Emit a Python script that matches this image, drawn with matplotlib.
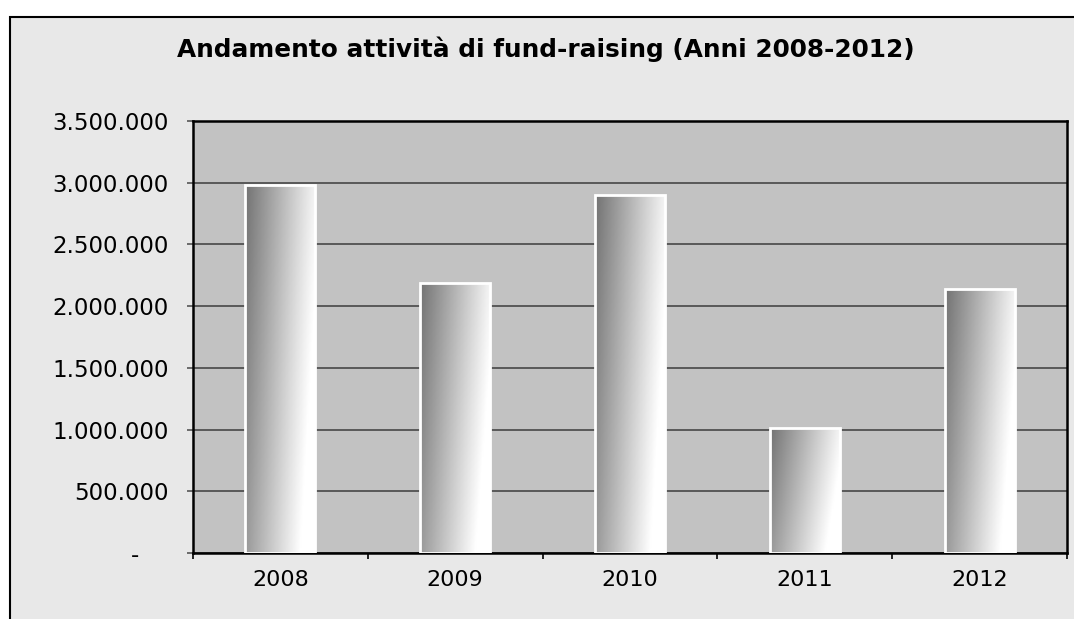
import numpy as np
import matplotlib.pyplot as plt
from matplotlib.patches import Rectangle

# dati
anni = ['2008', '2009', '2010', '2011', '2012']
raccolta = [2980000, 2190000, 2900000, 1015000, 2140000]
y_ticks = [0, 500000, 1000000, 1500000, 2000000, 2500000, 3000000, 3500000]
y_labels = ['-    ', '500.000', '1.000.000', '1.500.000', '2.000.000',
            '2.500.000', '3.000.000', '3.500.000']
titolo = 'Andamento attività di fund-raising (Anni 2008-2012)'

W, H = 1074, 619
fig = plt.figure(figsize=(W / 100, H / 100), dpi=100)
fig.patch.set_facecolor('white')

# cornice dell'area grafico
fig.add_artist(Rectangle((10 / W, -0.1), 1.2, 1 - 17 / H + 0.1,
                         transform=fig.transFigure, facecolor='#e8e8e8',
                         edgecolor='black', lw=1.5, zorder=0))
fig.text(2 / W, 1 + 9 / H, 'Grafico 5', fontsize=15, fontweight='bold',
         ha='left', va='baseline')

ax = fig.add_axes([193 / W, 1 - 553 / H, (1067 - 193) / W, (553 - 121) / H])
ax.set_facecolor('#c2c2c2')

x = np.arange(len(anni))
largh = 0.4
bars = ax.bar(x, raccolta, width=largh, facecolor='none', edgecolor='white',
              lw=2, zorder=4)

# sfumatura delle barre
gx, gy = np.meshgrid(np.linspace(0, 1, 60), np.linspace(0, 1, 200))
grad = np.clip(0.45 + 0.5 * gx + 0.15 * (1 - gy), 0, 1)
for b in bars:
    x0 = b.get_x()
    im = ax.imshow(grad, cmap='gray', vmin=0, vmax=1, origin='lower',
                   aspect='auto', extent=[x0, x0 + largh, 0, b.get_height()],
                   zorder=3)
    im.set_clip_path(b)

ax.set_xlim(-0.5, len(anni) - 0.5)
ax.set_ylim(0, 3500000)

ax.set_yticks(y_ticks)
ax.set_yticklabels(y_labels, fontsize=16.5)
ax.set_xticks(x)
ax.set_xticklabels(anni, fontsize=16)
ax.set_xticks(np.arange(-0.5, len(anni)), minor=True)
ax.tick_params(axis='x', which='major', length=0, pad=12)
ax.tick_params(axis='x', which='minor', length=4.5, width=1.2, direction='out')
ax.tick_params(axis='y', length=4.5, width=1.2, color='#555555', pad=13)

ax.yaxis.grid(True, color='#505050', lw=1.3)
ax.set_axisbelow(True)
for s in ax.spines.values():
    s.set_linewidth(1.8)
    s.set_color('black')

fig.text(546 / W, 1 - 49 / H, titolo, ha='center', va='center',
         fontsize=17.8, fontweight='bold')

fig.savefig('out.png', dpi=100)
